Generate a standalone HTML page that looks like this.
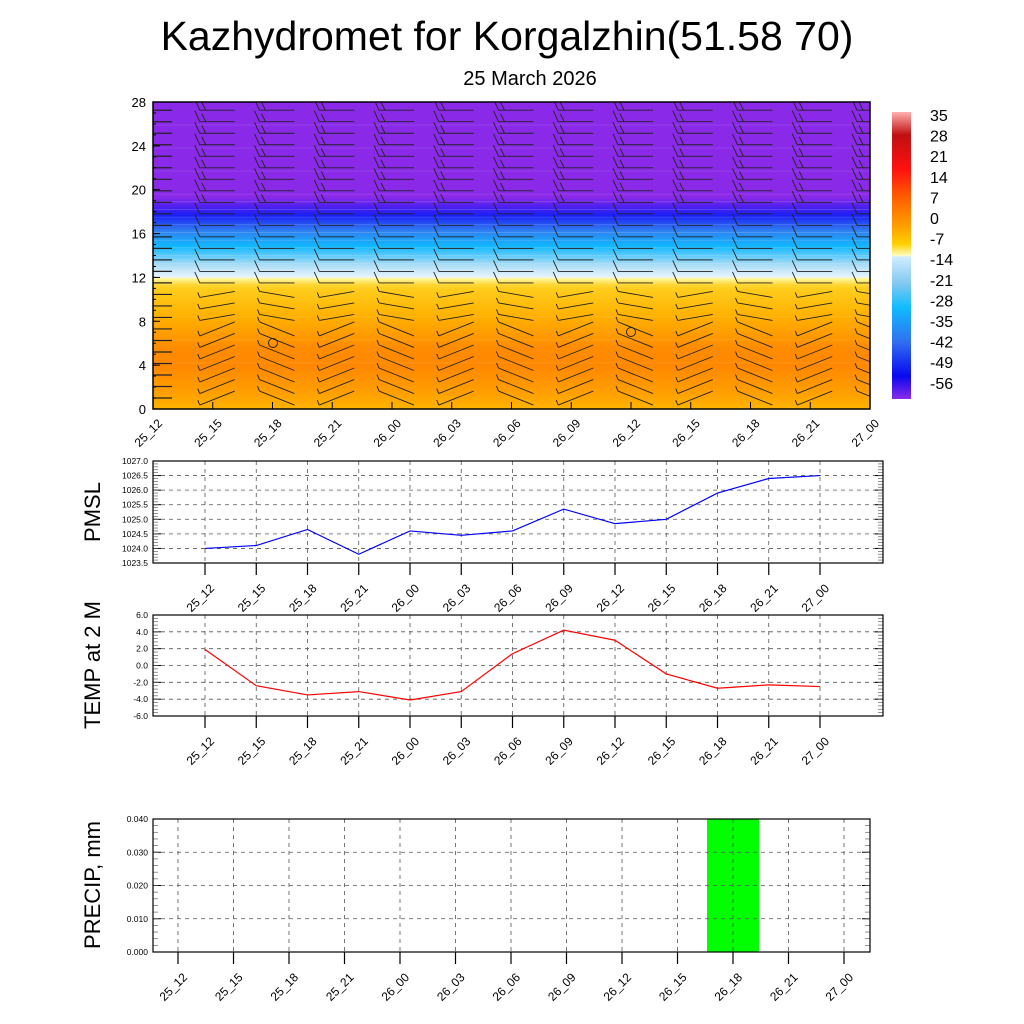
<!DOCTYPE html>
<html><head><meta charset="utf-8"><style>
body{margin:0;background:#fff}
svg{display:block;font-family:"Liberation Sans",sans-serif}
</style></head><body>
<svg id="s" width="1024" height="1024" viewBox="0 0 1024 1024" xmlns="http://www.w3.org/2000/svg">
<defs>
<clipPath id="cp"><rect x="153" y="102" width="717" height="307"/></clipPath>
<linearGradient id="g" x1="0" y1="409" x2="0" y2="102" gradientUnits="userSpaceOnUse">
<stop offset="0" stop-color="#ffb400"/>
<stop offset="0.05" stop-color="#ffa000"/>
<stop offset="0.14" stop-color="#ff8800"/>
<stop offset="0.2" stop-color="#ff8c00"/>
<stop offset="0.3" stop-color="#ffb000"/>
<stop offset="0.4" stop-color="#ffd020"/>
<stop offset="0.425" stop-color="#fff8a0"/>
<stop offset="0.43" stop-color="#e8f4ff"/>
<stop offset="0.47" stop-color="#a8dcf5"/>
<stop offset="0.53" stop-color="#10b8ff"/>
<stop offset="0.58" stop-color="#3080f0"/>
<stop offset="0.63" stop-color="#1a20f5"/>
<stop offset="0.66" stop-color="#5020ee"/>
<stop offset="0.69" stop-color="#8a2ae8"/>
<stop offset="1" stop-color="#8a2ae8"/>
</linearGradient>
<linearGradient id="cb" x1="0" y1="112" x2="0" y2="399" gradientUnits="userSpaceOnUse">
<stop offset="0" stop-color="#ffb0b0"/>
<stop offset="0.08" stop-color="#c01010"/>
<stop offset="0.2" stop-color="#ff1010"/>
<stop offset="0.3" stop-color="#ff6000"/>
<stop offset="0.4" stop-color="#ffa000"/>
<stop offset="0.46" stop-color="#ffd000"/>
<stop offset="0.5" stop-color="#fffcc0"/>
<stop offset="0.505" stop-color="#d0ecff"/>
<stop offset="0.6" stop-color="#80c8f0"/>
<stop offset="0.68" stop-color="#10bcff"/>
<stop offset="0.8" stop-color="#3070f0"/>
<stop offset="0.92" stop-color="#0808f0"/>
<stop offset="1" stop-color="#8a2ae8"/>
</linearGradient>
</defs>
<text x="507" y="50" font-size="41" text-anchor="middle">Kazhydromet for Korgalzhin(51.58 70)</text>
<text x="530" y="85" font-size="20" text-anchor="middle">25 March 2026</text>
<rect x="153" y="102" width="717" height="307" fill="url(#g)"/>
<rect x="892" y="112" width="19" height="287" fill="url(#cb)"/>
<g id="bb" clip-path="url(#cp)"></g>
<g id="top"></g>
</svg>
<script>
var h='';
function L(a,b,c,d,col,w,da){h+='<line x1="'+a+'" y1="'+b+'" x2="'+c+'" y2="'+d+'" stroke="'+(col||'#000')+'" stroke-width="'+(w||1)+'"'+(da?' stroke-dasharray="'+da+'"':'')+'/>';}
function T(x,y,t,sz,anc,rot){h+='<text x="'+x+'" y="'+y+'" font-size="'+sz+'" text-anchor="'+(anc||'start')+'"'+(rot?' transform="rotate('+rot+' '+x+' '+y+')"':'')+'>'+t+'</text>';}
var labs=['25_12','25_15','25_18','25_21','26_00','26_03','26_06','26_09','26_12','26_15','26_18','26_21','27_00'];
for(var v=0;v<=28;v+=0.7){var y=409-v/28*307;if(v>12&&v<19.5)L(153,y,870,y,'rgba(255,255,255,0.25)',0.6);else if((v*10)%3<1)L(153,y,870,y,'rgba(255,255,255,0.2)',0.5);}
for(var k=0;k<13;k++){var cx=153+k*59.75;
 for(var v=1;v<=27.5;v+=1.05){var y=409-v/28*307;
  if(k==0){L(153,y,172,y,'#222',1.2);continue;}
  if(v>11.5){L(cx-13,y,cx+22,y,'#222',0.9);L(cx-13,y,cx-18,y-11,'#222',0.9);if(v>18)L(cx-7,y,cx-11,y-8,'#222',0.9);}
  else {var a=(v<8?0.35:0.15)*(k%2?1:-1);L(cx-13,y+a*20,cx+22,y-a*20,'#222',0.9);L(cx-13,y+a*20,cx-15,y+a*20-5,'#222',0.9);}
 }}
document.getElementById('bb').innerHTML=h;h='';
h+='<circle cx="273" cy="343" r="4.5" fill="none" stroke="#222"/><circle cx="631" cy="332" r="4.5" fill="none" stroke="#222"/>';
h+='<rect x="153" y="102" width="717" height="307" fill="none" stroke="#000" stroke-width="1.5"/>';
for(var v=0;v<=28;v+=4){var y=409-v/28*307;T(146,y+5,v,13,'end');L(153,y,160,y);}
for(var v=0;v<=28;v+=1){var y=409-v/28*307;L(153,y,156,y);}
for(var k=0;k<13;k++){var x=153+k*59.75;L(x,409,x,402);T(x+10,424,labs[k],12,'end',-45);}
var cbl=[35,28,21,14,7,0,-7,-14,-21,-28,-35,-42,-49,-56];
for(var i=0;i<14;i++)T(930,121+i*20.6,cbl[i],16);
function panel(top,bot,x0,x1,ymin,ymax,step,minor,fmt,vals,col,x12,dx,title,ty){
 for(var k=0;k<13;k++){var x=x12+k*dx;L(x,top,x,bot,'#555',0.8,'4 4');L(x,bot,x,bot+12,'#000',1.2);T(x+10,bot+26,labs[k],12,'end',-45);}
 for(var v=ymin;v<=ymax+1e-9;v+=step){var y=bot-(v-ymin)/(ymax-ymin)*(bot-top);if(v>ymin&&v<ymax-1e-9)L(x0,y,x1,y,'#555',0.8,'4 4');T(x0-5,y+3,fmt(v),8.5,'end');L(x0,y,x0+8,y);L(x1,y,x1-8,y);}
 for(var v=ymin;v<=ymax+1e-9;v+=minor){var y=bot-(v-ymin)/(ymax-ymin)*(bot-top);L(x0,y,x0+5,y,'#666',0.7);L(x1,y,x1-5,y,'#666',0.7);}
 if(vals){var p='';for(var k=0;k<13;k++){p+=(x12+k*dx)+','+(bot-(vals[k]-ymin)/(ymax-ymin)*(bot-top))+' ';}
 h+='<polyline points="'+p+'" fill="none" stroke="'+col+'" stroke-width="1.2"/>';}
 h+='<rect x="'+x0+'" y="'+top+'" width="'+(x1-x0)+'" height="'+(bot-top)+'" fill="none" stroke="#000" stroke-width="1.2"/>';
 T(100,ty,title,22,'middle',-90);
}
panel(461,563,153,883,1023.5,1027,0.5,0.1,function(v){return v.toFixed(1)},[1024.0,1024.1,1024.65,1023.8,1024.6,1024.45,1024.6,1025.35,1024.85,1025.0,1025.9,1026.4,1026.5],'#0000ff',205,51.25,'PMSL',512);
panel(615,716,153,883,-6,6,2,0.4,function(v){return v.toFixed(1)},[1.9,-2.4,-3.5,-3.1,-4.1,-3.1,1.4,4.2,3.0,-1.0,-2.7,-2.3,-2.5],'#ff0000',205,51.25,'TEMP at 2 M',665);
h+='<rect x="707" y="819" width="52" height="133" fill="#00ff00"/>';
panel(819,952,153,870,0,0.04,0.01,0.002,function(v){return v.toFixed(3)},null,'',178,55.5,'PRECIP, mm',885);
document.getElementById('top').innerHTML=h;
</script>
</body></html>
